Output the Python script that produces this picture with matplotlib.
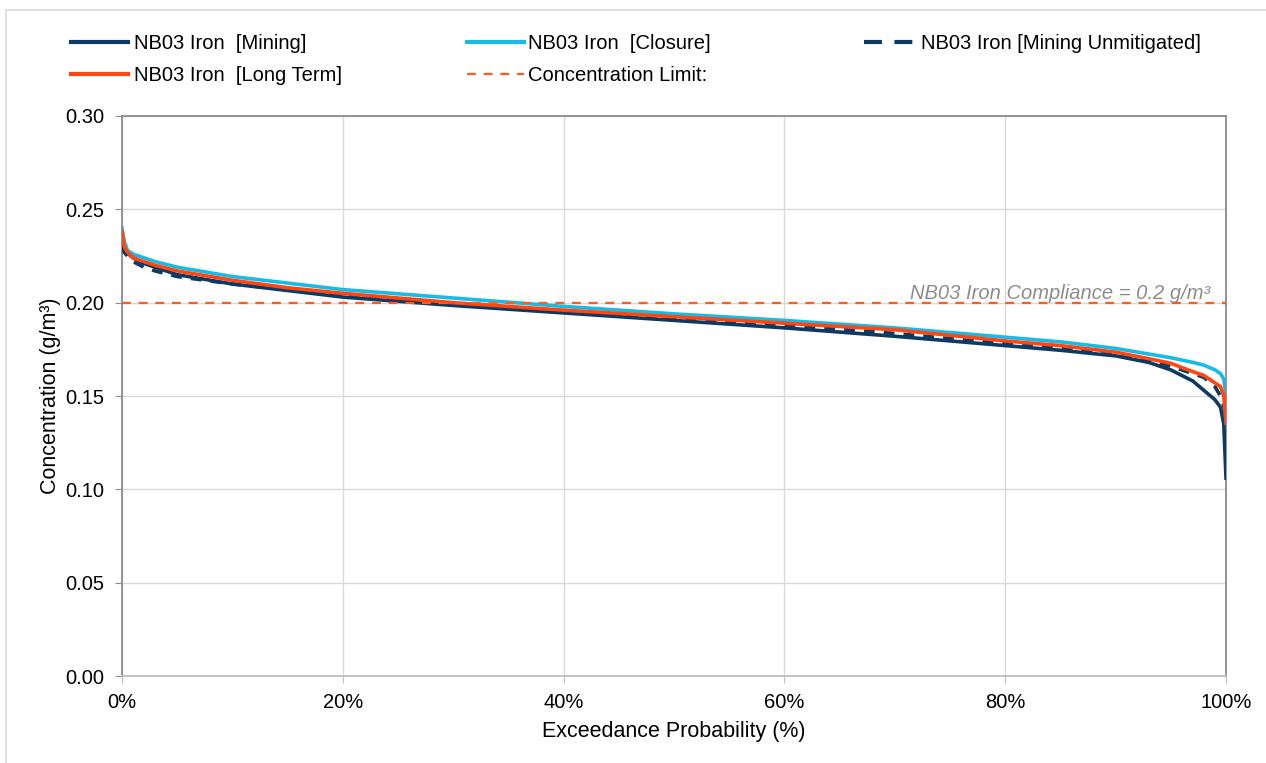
import matplotlib
matplotlib.use("Agg")
import matplotlib.pyplot as plt
from matplotlib.lines import Line2D
from matplotlib.patches import Rectangle
from matplotlib.ticker import FuncFormatter, MultipleLocator

plt.rcParams['font.family'] = ['Liberation Sans', 'DejaVu Sans']

# Exceedance probability (%)
prob = [0, 0.2, 0.5, 1, 2, 3, 5, 10, 15, 20, 30, 40, 50, 60, 70, 80, 85, 90,
        93, 95, 97, 98, 99, 99.5, 99.8, 100]

mining = [0.231, 0.228, 0.2265, 0.224, 0.221, 0.219, 0.215, 0.210, 0.2065, 0.203,
          0.1985, 0.1945, 0.1905, 0.1865, 0.182, 0.177, 0.1745, 0.1715, 0.168,
          0.164, 0.158, 0.153, 0.148, 0.144, 0.135, 0.106]
closure = [0.240, 0.233, 0.228, 0.226, 0.224, 0.222, 0.219, 0.214, 0.2105, 0.207,
           0.2025, 0.198, 0.194, 0.1905, 0.1865, 0.1815, 0.179, 0.1755, 0.1725,
           0.1705, 0.168, 0.1665, 0.164, 0.162, 0.159, 0.150]
long_term = [0.238, 0.230, 0.227, 0.224, 0.222, 0.220, 0.217, 0.212, 0.208, 0.205,
             0.200, 0.196, 0.1925, 0.189, 0.1855, 0.1795, 0.177, 0.1735, 0.170,
             0.1675, 0.163, 0.161, 0.157, 0.155, 0.150, 0.1355]
unmitigated = [0.230, 0.227, 0.225, 0.222, 0.219, 0.217, 0.214, 0.210, 0.207, 0.2035,
               0.199, 0.195, 0.1915, 0.188, 0.1835, 0.178, 0.1755, 0.172, 0.169,
               0.166, 0.162, 0.160, 0.155, 0.150, 0.145, 0.137]
limit = 0.2

labels = ["NB03 Iron  [Mining]", "NB03 Iron  [Closure]", "NB03 Iron [Mining Unmitigated]",
          "NB03 Iron  [Long Term]", "Concentration Limit:"]
annot = "NB03 Iron Compliance = 0.2 g/m³"

NAVY = '#0D3A61'
CYAN = '#16BCE5'
ORANGE = '#FF4512'
LIMC = '#FF5A1F'

W, H = 1266, 763
fig = plt.figure(figsize=(W / 100, H / 100), dpi=100)
ax = fig.add_axes([122 / W, 1 - 676 / H, (1226 - 122) / W, (676 - 116) / H])

# figure border
fig.patches.append(Rectangle((6 / W, -0.01), 1.0, 1 - 10 / H + 0.01, transform=fig.transFigure,
                             fill=False, edgecolor='#D9D9D9', linewidth=1.2))

ax.plot(prob, unmitigated, color=NAVY, lw=2.6, ls=(0, (3, 2.5)), zorder=3)
ax.plot(prob, mining, color=NAVY, lw=2.6, zorder=4)
ax.plot(prob, long_term, color=ORANGE, lw=2.6, zorder=5)
ax.plot(prob, closure, color=CYAN, lw=2.6, zorder=2)
ax.axhline(limit, color=LIMC, lw=1.6, ls=(0, (4, 3.5)), zorder=6)

ax.text(98.6, limit - 0.0001, annot, ha='right', va='bottom', style='italic',
        color='#8C8C8C', fontsize=14.5)

ax.set_xlim(0, 100)
ax.set_ylim(0, 0.30)
ax.xaxis.set_major_locator(MultipleLocator(20))
ax.yaxis.set_major_locator(MultipleLocator(0.05))
ax.xaxis.set_major_formatter(FuncFormatter(lambda v, p: f"{v:.0f}%"))
ax.yaxis.set_major_formatter(FuncFormatter(lambda v, p: f"{v:.2f}"))
ax.grid(True, color='#D9D9D9', lw=1)
ax.set_axisbelow(True)
for s in ['left', 'top', 'right']:
    ax.spines[s].set_color('#8C8C8C')
    ax.spines[s].set_linewidth(1.3)
ax.spines['bottom'].set_color('#BFBFBF')
ax.spines['bottom'].set_linewidth(1.3)
ax.tick_params(axis='both', labelsize=14.5, colors='#BFBFBF', labelcolor='#000000', length=5)
ax.tick_params(axis='y', colors='#8C8C8C', labelcolor='#000000', pad=8)
ax.tick_params(axis='x', pad=7)
ax.set_xlabel("Exceedance Probability (%)", fontsize=15.5, labelpad=7)
ax.set_ylabel("Concentration (g/m³)", fontsize=15.5, labelpad=3)

handles = [
    Line2D([], [], color=NAVY, lw=3),
    Line2D([], [], color=CYAN, lw=3),
    Line2D([], [], color=NAVY, lw=3, ls=(0, (4.3, 3.0))),
    Line2D([], [], color=ORANGE, lw=3),
    Line2D([], [], color=LIMC, lw=1.6, ls=(0, (4, 3.5))),
]
fs = 14.5
fpx = fs * 100 / 72
cols = [([0, 3], 71, 0.3), ([1, 4], 467, 0.2), ([2], 864, 0.0)]
for idx, xpx, tp in cols:
    fig.legend([handles[i] for i in idx], [labels[i] for i in idx],
               loc='upper left', bbox_to_anchor=(xpx / W, 1 - 34 / H),
               frameon=False, fontsize=fs,
               handlelength=57 / fpx, handletextpad=tp,
               borderpad=0, borderaxespad=0, labelspacing=0.65)

fig.savefig("out.png", dpi=100)
